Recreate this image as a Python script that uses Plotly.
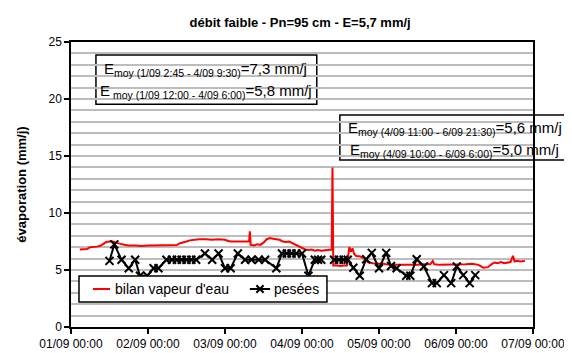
import pandas as pd
import plotly.graph_objects as go

# ---- data ----
base = pd.Timestamp("2008-09-01 00:00")

# bilan vapeur d'eau (hours since 01/09 00:00, mm/j)
red_hours = [2.75, 4, 5, 6, 7, 8, 9, 10, 11, 12, 13, 14, 15, 16, 17, 18, 20, 22, 24, 26, 28, 30, 32, 33,
             34, 35, 36, 37, 38, 40, 42, 44, 46, 48, 49, 50, 52, 54, 55.5, 55.75, 56, 57, 58, 59, 60, 61,
             62, 63, 64, 65, 66, 67, 68, 69, 70, 71, 72, 73, 74, 75, 76, 77, 78, 79, 80, 81.25, 81.5,
             81.75, 83, 84, 85, 86, 86.75, 87.25, 87.75, 88.25, 89, 90, 91.5, 92.5, 94, 96, 97, 98, 100,
             102, 104, 106, 108, 110, 112, 112.75, 113.25, 115, 117, 119, 121, 123, 125, 127, 128.5, 130,
             131, 132, 133, 134, 135, 136, 137, 137.75, 138.25, 139, 140, 141.5]
red_vals = [6.8, 6.8, 6.85, 7.0, 7.0, 7.05, 7.1, 7.25, 7.45, 7.5, 7.5, 7.4, 7.3, 7.25, 7.2, 7.15, 7.15, 7.1,
            7.15, 7.15, 7.2, 7.15, 7.2, 7.2, 7.35, 7.4, 7.5, 7.6, 7.65, 7.7, 7.7, 7.65, 7.7, 7.65, 7.55,
            7.5, 7.5, 7.5, 7.5, 8.4, 7.2, 7.15, 7.25, 7.2, 7.4, 7.7, 7.8, 7.75, 7.7, 7.65, 7.5, 7.45, 7.5,
            7.35, 7.2, 7.1, 6.95, 6.8, 6.75, 6.8, 6.7, 6.75, 6.7, 6.75, 6.75, 6.8, 14.0, 5.4, 5.4, 5.35,
            5.4, 5.4, 7.0, 6.6, 6.9, 6.4, 6.2, 6.2, 6.0, 5.7, 5.6, 5.55, 5.6, 5.5, 5.45, 5.45, 5.4, 5.45,
            5.45, 5.5, 5.5, 5.8, 5.5, 5.45, 5.45, 5.5, 5.45, 5.5, 5.55, 5.45, 5.2, 5.25, 5.5, 5.65, 5.6,
            5.7, 5.6, 5.65, 5.7, 6.25, 5.75, 5.8, 5.75, 5.8]

# pesées (hours since 01/09 00:00, mm/j); None marks the gap between the two weighing periods
pes_hours = [12, 13.5, 15.75, 18, 20, 21.5, 23.75, 25.75, 27.25, 29.75, 31.5, 33, 34.5, 36, 37.5, 39,
             41.75, 44, 46, 48, 49.75, 52, 54.25, 56.25, 58.5, 60.5, 64, 65.75, 67.25, 68.75, 70.25, 72,
             74, 76, 77, 78, 80,
             82, 83.5, 85, 86.25, 88, 90, 92, 93.75, 96, 98.25, 99.75, 101.5, 104.5, 105.75, 107.75, 110,
             112.5, 114, 116.25, 118.5, 120.25, 122.25, 124.25, 126]
pes_vals = [5.8, 7.25, 5.9, 5.15, 5.9, 4.5, 4.5, 5.15, 5.15, 5.9, 5.9, 5.9, 5.9, 5.9, 5.9, 5.9,
            6.45, 5.9, 6.45, 5.15, 5.15, 6.45, 5.9, 5.9, 5.9, 5.9, 5.15, 6.45, 6.45, 6.45, 6.45, 6.45,
            4.5, 5.9, 5.9, 5.9, None,
            5.9, 5.9, 5.9, 5.9, 5.2, 4.5, 5.95, 6.5, 5.15, 6.5, 5.35, 5.15, 4.5, 4.5, 5.95, 5.3,
            3.85, 3.85, 4.55, 3.85, 5.3, 4.55, 3.85, 4.55]

x_ticks = ["2008-09-01", "2008-09-02", "2008-09-03", "2008-09-04", "2008-09-05", "2008-09-06", "2008-09-07"]
x_labels = ["01/09 00:00", "02/09 00:00", "03/09 00:00", "04/09 00:00", "05/09 00:00", "06/09 00:00", "07/09 00:00"]

series_names = ["bilan vapeur d'eau", "pesées"]
series_colors = ["#ff0000", "#000000"]

title = "débit faible - Pn=95 cm - E=5,7 mm/j"
box1 = ["E<sub>moy (1/09 2:45 - 4/09 9:30)</sub>=7,3 mm/j", "E<sub> moy (1/09 12:00 - 4/09 6:00)</sub>=5,8 mm/j"]
box2 = ["E<sub>moy (4/09 11:00 - 6/09 21:30)</sub>=5,6 mm/j", "E<sub>moy (4/09 10:00 - 6/09 6:00)</sub>=5,0 mm/j"]

red_t = [base + pd.Timedelta(hours=h) for h in red_hours]
pes_t = [base + pd.Timedelta(hours=h) for h in pes_hours]

FONT = "Liberation Sans, Arial, sans-serif"

fig = go.Figure()
fig.add_trace(go.Scatter(x=red_t, y=red_vals, mode="lines", name=series_names[0], showlegend=False,
                         line=dict(color=series_colors[0], width=2)))
fig.add_trace(go.Scatter(x=pes_t, y=pes_vals, mode="lines+markers", name=series_names[1], showlegend=False,
                         connectgaps=False,
                         line=dict(color=series_colors[1], width=2),
                         marker=dict(symbol="x-thin", size=8, line=dict(color=series_colors[1], width=2))))

# text boxes (white, drawn between grid and axis lines)
for (x0, x1, y0, y1) in [(0.054, 0.532, 0.782, 0.954), (0.582, 1.080, 0.586, 0.744)]:
    fig.add_shape(type="rect", xref="paper", yref="paper", x0=x0, x1=x1, y0=y0, y1=y1,
                  fillcolor="white", line=dict(color="black", width=1.5), layer="between")

for txt, xp, yp in [(box1[0], 0.292, 0.905), (box1[1], 0.292, 0.825),
                    (box2[0], 0.831, 0.695), (box2[1], 0.831, 0.618)]:
    fig.add_annotation(text=txt, xref="paper", yref="paper", x=xp, y=yp, showarrow=False,
                       xanchor="center", yanchor="middle", font=dict(size=15, color="black", family=FONT))

# legend box (Excel-style, compact samples)
fig.add_shape(type="rect", xref="paper", yref="paper", x0=0.0173, x1=0.554, y0=0.0877, y1=0.179,
              fillcolor="white", line=dict(color="black", width=1.5), layer="above")
ly = 0.1333
fig.add_shape(type="line", xref="paper", yref="paper", x0=0.0476, x1=0.0844, y0=ly, y1=ly,
              line=dict(color=series_colors[0], width=2), layer="above")
fig.add_shape(type="line", xref="paper", yref="paper", x0=0.387, x1=0.431, y0=ly, y1=ly,
              line=dict(color=series_colors[1], width=2), layer="above")
mx, dx, dy = 0.409, 0.0078, 0.0130
fig.add_shape(type="path", xref="paper", yref="paper",
              path=f"M{mx-dx},{ly-dy} L{mx+dx},{ly+dy} M{mx-dx},{ly+dy} L{mx+dx},{ly-dy}",
              line=dict(color=series_colors[1], width=2), layer="above")
for name, xp in [(series_names[0], 0.0909), (series_names[1], 0.435)]:
    fig.add_annotation(text=name, xref="paper", yref="paper", x=xp, y=ly, showarrow=False,
                       xanchor="left", yanchor="middle", font=dict(size=14, color="black", family=FONT))

# the page body has an 8px default margin: size the figure so the plot area lands where the reference's does
fig.update_layout(
    width=564, height=345,
    margin=dict(l=63, r=39, t=34, b=26),
    paper_bgcolor="white", plot_bgcolor="white",
    font=dict(family=FONT, color="black", size=12),
    title=dict(text="<b>" + title + "</b>", x=0.518, xanchor="center", y=0.959, yanchor="middle",
               font=dict(size=13, family=FONT, color="black")),
    showlegend=False,
)

fig.update_xaxes(type="date", range=[x_ticks[0], x_ticks[-1]], tickvals=x_ticks, ticktext=x_labels,
                 showgrid=False, showline=True, linecolor="black", linewidth=1.5, mirror=True,
                 ticks="outside", ticklen=5, tickwidth=1.5, tickcolor="black",
                 tickfont=dict(size=12, family=FONT), automargin=False, zeroline=False)
fig.update_yaxes(range=[0, 25], dtick=5, tick0=0,
                 showgrid=True, gridcolor="#bdbdbd", gridwidth=1.5,
                 minor=dict(dtick=1, showgrid=True, gridcolor="#bdbdbd", gridwidth=1.5),
                 showline=True, linecolor="black", linewidth=1.5, mirror=True,
                 ticks="outside", ticklen=5, tickwidth=1.5, tickcolor="black",
                 tickfont=dict(size=12, family=FONT), automargin=False, zeroline=False,
                 title=dict(text="<b>évaporation (mm/j)</b>", font=dict(size=13, family=FONT), standoff=19))

fig.write_html("out.html")
